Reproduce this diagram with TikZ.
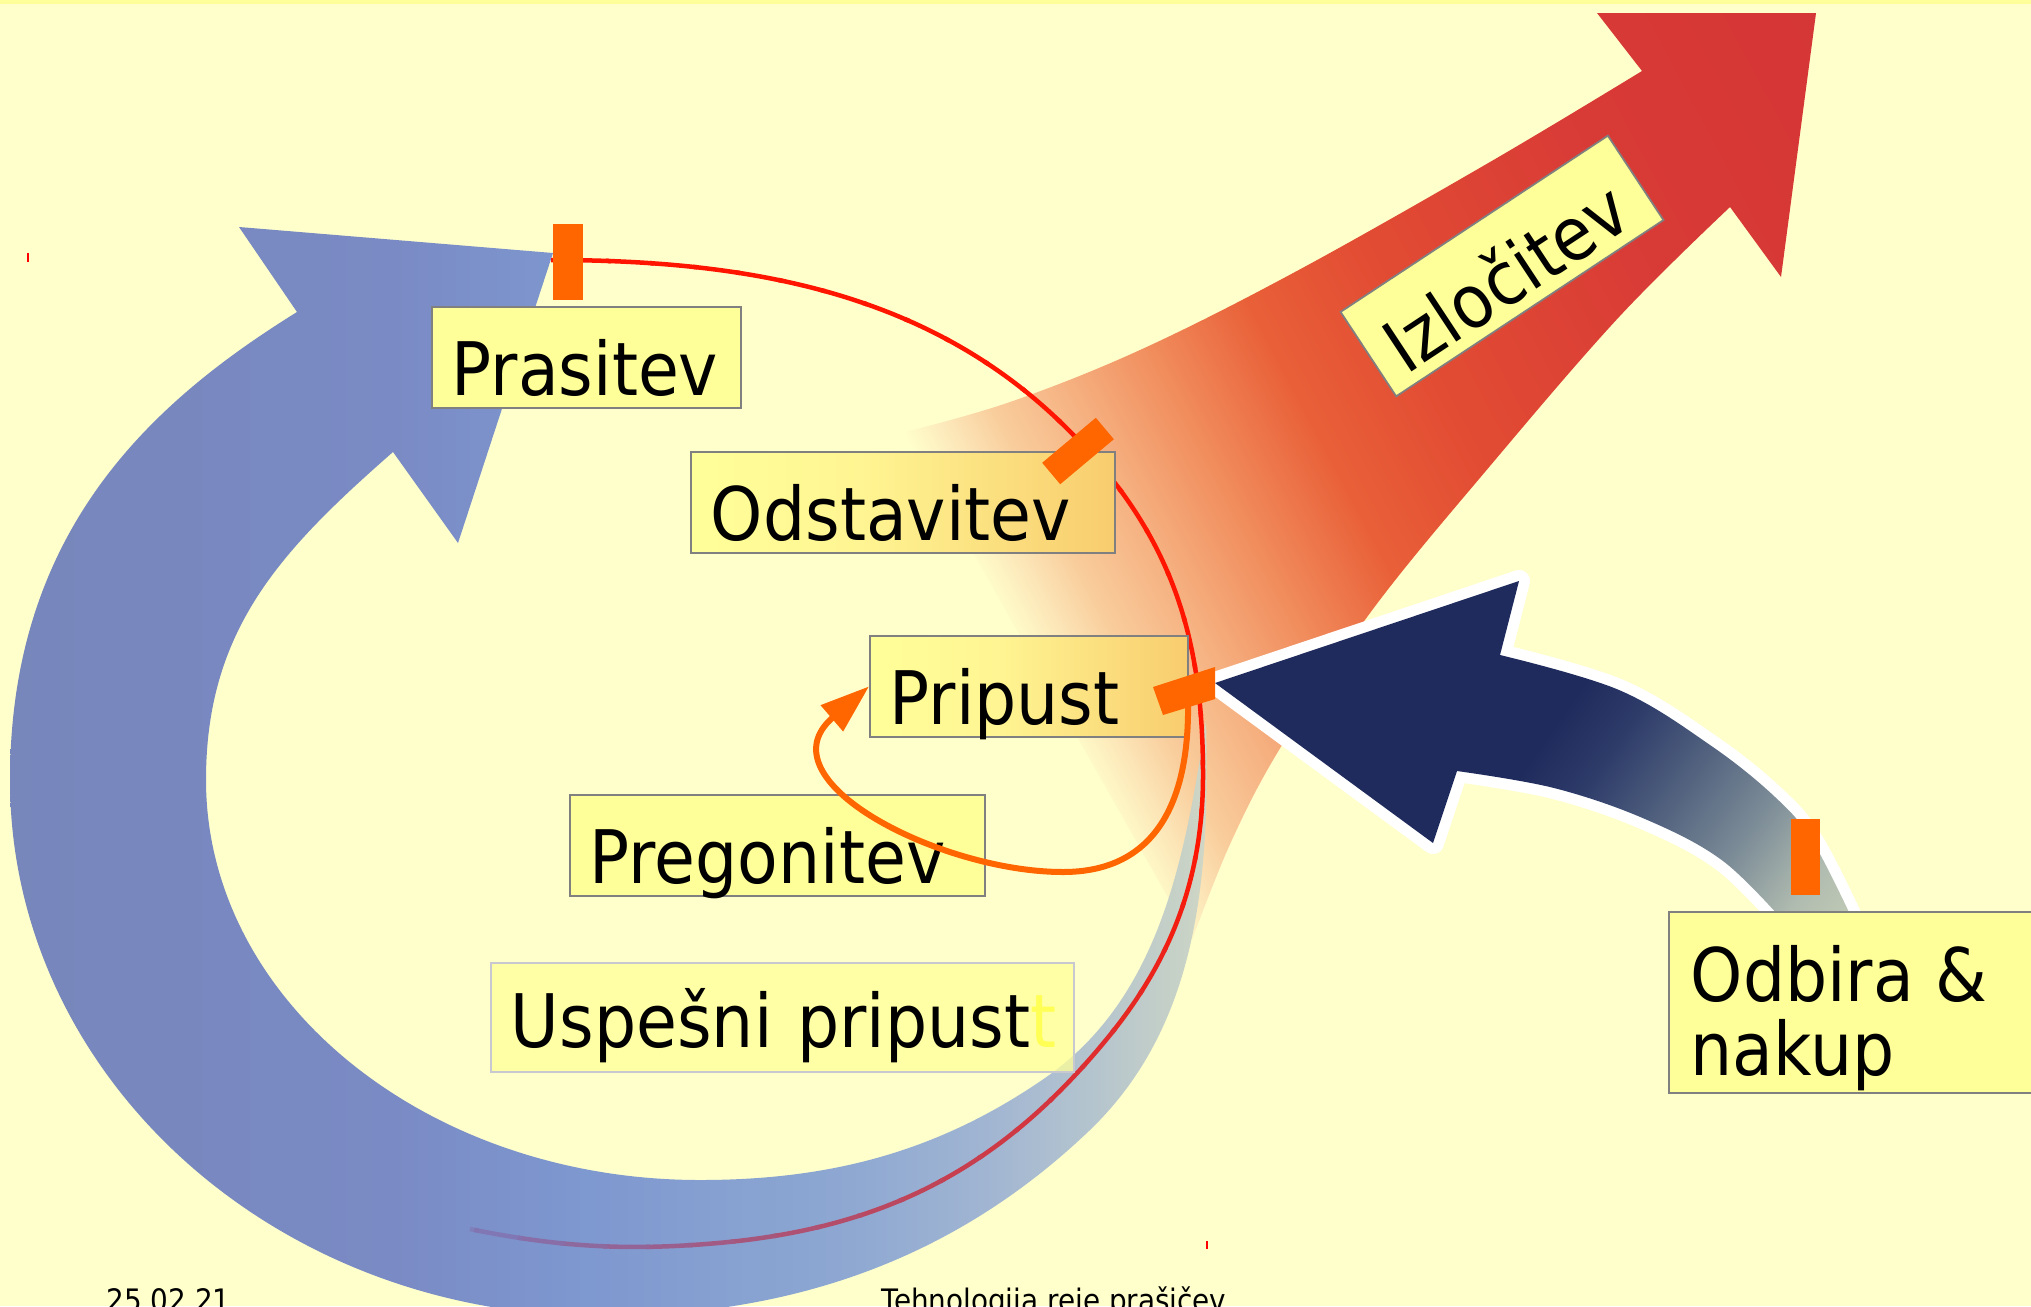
\documentclass[tikz,border=0pt]{standalone}
\usepackage{fontspec}
\newfontfamily\labfont[FakeStretch=0.9]{DejaVu Sans}
\usetikzlibrary{arrows.meta}
\definecolor{bgY}{HTML}{FFFFCC}
\definecolor{stripY}{HTML}{FFFF99}
\definecolor{boxY}{HTML}{FFFF99}
\definecolor{boxY2}{HTML}{FFF592}
\definecolor{boxO}{HTML}{F8CC6E}
\definecolor{boxLine}{HTML}{808080}
\definecolor{uspLine}{HTML}{C8C8D0}
\definecolor{ghostY}{HTML}{FFFF55}
\definecolor{mk}{HTML}{FF6600}
\definecolor{redline}{HTML}{FF1500}
\definecolor{rlEnd}{HTML}{8272B0}
% fan colours
\definecolor{fan1}{HTML}{FCE6B8}
\definecolor{fan2}{HTML}{F9CD9C}
\definecolor{fan3}{HTML}{F6B282}
\definecolor{fan4}{HTML}{F18E5E}
\definecolor{fan5}{HTML}{E96038}
\definecolor{fan6}{HTML}{E24C33}
\definecolor{fan7}{HTML}{D83A36}
\definecolor{fan8}{HTML}{D23236}
% blue band colours
\definecolor{b1}{HTML}{7786BB}
\definecolor{b2}{HTML}{7A8AC4}
\definecolor{b3}{HTML}{7E98D0}
\definecolor{b4}{HTML}{8EA8D2}
\definecolor{b5}{HTML}{A2B6D2}
\definecolor{b6}{HTML}{B4C4CE}
\definecolor{b7}{HTML}{C8D2C6}
\definecolor{b8}{HTML}{D4D8C4}
% navy colours
\definecolor{n1}{HTML}{1F2B5C}
\definecolor{n2}{HTML}{2E3C6A}
\definecolor{n3}{HTML}{4A5A7A}
\definecolor{n4}{HTML}{7A8A96}
\definecolor{n5}{HTML}{B0BCB0}
\definecolor{n6}{HTML}{C4CCB6}
\pgfdeclarehorizontalshading{fanshade}{100bp}{color(0bp)=(bgY); color(29bp)=(bgY); color(31.5bp)=(fan1); color(34bp)=(fan2); color(38bp)=(fan3); color(43bp)=(fan4); color(49bp)=(fan5); color(56bp)=(fan6); color(70bp)=(fan7); color(100bp)=(fan8)}
\pgfdeclarehorizontalshading{blueshade}{100bp}{color(0bp)=(b1); color(25bp)=(b1); color(41bp)=(b2); color(49bp)=(b3); color(60bp)=(b4); color(66bp)=(b5); color(70bp)=(b6); color(74bp)=(b7); color(75bp)=(b8); color(100bp)=(b8)}
\pgfdeclarehorizontalshading{navyshade}{100bp}{color(0bp)=(n1); color(50bp)=(n1); color(56bp)=(n2); color(62bp)=(n3); color(71bp)=(n4); color(79bp)=(n5); color(85bp)=(n6); color(100bp)=(n6)}
\pgfdeclarehorizontalshading{boxshade}{100bp}{color(0bp)=(boxY); color(25bp)=(boxY); color(45bp)=(boxY2); color(75bp)=(boxO); color(100bp)=(boxO)}
\tikzset{
  lbl/.style={draw=boxLine, line width=0.5pt, fill=boxY, inner xsep=0.2cm, inner ysep=0pt,
    text height=0.89cm, text depth=0.12cm, align=left, anchor=north west,
    font=\labfont\fontsize{21pt}{21pt}\selectfont, text=black},
  lblsh/.style={lbl, shade, shading=boxshade},
  mkbox/.style={fill=mk, inner sep=0pt, draw=none},
  foot/.style={anchor=base west, inner sep=0pt, font=\labfont\fontsize{8.8pt}{10pt}\selectfont, text=black},
}
\begin{document}
\begin{tikzpicture}[x=0.01cm, y=-0.01cm]
\useasboundingbox (0,0) rectangle (2031,1306);
\clip (0,0) rectangle (2031,1306);
\fill[bgY] (0,0) rectangle (2031,1306);
\fill[stripY] (0,0) rectangle (2031,4);

% big fading red arrow (Izlocitev)
\shade[shading=fanshade, shading angle=28]
  (905,432) -- plot[smooth, tension=0.6] coordinates {(905,432) (1010,402) (1140,350) (1295,272) (1490,162) (1642,71)}
  -- (1597,13) -- (1816,13) -- (1781,277) -- (1730,207)
  -- plot[smooth, tension=0.6] coordinates {(1730,207) (1619,317) (1490,466) (1373,609) (1282,745) (1231,842) (1192,940)}
  -- cycle;

% big blue circular arrow
\shade[shading=blueshade]
  (297,312) -- (239,227) -- (553,253) -- (458,543) -- (393,452)
  .. controls (280,551) and (206,630) .. (206,780)
  .. controls (206,1001) and (427,1180) .. (700,1180)
  .. controls (830,1180) and (938,1152) .. (1045,1078)
  .. controls (1160,998) and (1185,858) .. (1206,720)
  .. controls (1210,873) and (1200,1024) .. (1090,1130)
  .. controls (953,1261) and (790,1316) .. (600,1316)
  .. controls (274,1316) and (10,1076) .. (10,780)
  .. controls (10,530) and (152,402) .. (297,312)
  -- cycle;

% red cycle line, colour changing along its lower part
\def\redcurve{(551,260) .. controls (781,260) and (979,304) .. (1118,487)
  .. controls (1184,575) and (1203,665) .. (1203,775)
  .. controls (1203,875) and (1173,957) .. (1110,1035)
  .. controls (1003,1167) and (887,1228) .. (718,1243)
  .. controls (628,1251) and (558,1247) .. (470,1229)}
\foreach \a in {-130,-125,...,125}{
  \pgfmathtruncatemacro\p{max(0,min(100,\a-5))}
  \pgfmathsetmacro\op{min(1,max(0,(120-\a)/18))}
  \begin{scope}
    \clip (650,760) -- +(\a:3000) -- +(\a+5.5:3000) -- cycle;
    \draw[line width=0.045cm, draw=rlEnd!\p!redline, draw opacity=\op] \redcurve;
  \end{scope}
}

% labels
\node[lbl, text width=2.69cm] (pras) at (431,306) {Prasitev};
\node[lblsh, text width=3.84cm] (odst) at (690,451) {Odstavitev};
\node[lblsh, text width=2.78cm] (prip) at (869,635) {Pripust};
\node[lbl, text width=3.75cm] (preg) at (569,794) {Pregonitev};
\node[lbl, text width=5.43cm, text height=0.85cm, text depth=0.24cm, draw=uspLine, fill opacity=0.75, text opacity=1] (usp) at (490,962) {\mbox{Uspešni pripust{\color{ghostY}t}}};
\node[lbl, text width=2.8cm, anchor=center, rotate=33.4] (izl) at (1502,266) {Izločitev};

% navy arrow (Odbira & nakup)
\def\navypath{(1215,683) -- (1519,581) -- (1500,655)
  -- plot[smooth, tension=0.6] coordinates {(1500,655) (1619,690) (1710,745) (1775,797) (1813,842) (1855,925)}
  -- (1787,925)
  -- plot[smooth, tension=0.6] coordinates {(1787,925) (1723,861) (1645,819) (1554,788) (1457,771)}
  -- (1433,843) -- cycle}
\draw[white, line width=0.22cm, line join=round] \navypath;
\shade[shading=navyshade, shading angle=-35] \navypath;

\node[draw=boxLine, line width=0.5pt, fill=boxY, minimum width=4.2cm, minimum height=1.81cm, anchor=north west, inner sep=0pt] (odb) at (1668,911) {};
\node[anchor=north west, inner sep=0pt, align=left, font=\labfont\fontsize{21pt}{21pt}\selectfont] (odbt) at (1690,945) {Odbira \&\\nakup};

% orange loop arrow Pripust -> Pripust
\coordinate (pmark) at (1188,700);
\draw[mk, line width=0.06cm, -{Triangle[length=0.49cm, width=0.33cm]}]
  (pmark) .. controls (1190,810) and (1150,872) .. (1063,872)
  .. controls (940,872) and (760,780) .. (prip.west);

% orange markers
\node[mkbox, minimum width=0.30cm, minimum height=0.76cm] (m1) at (568,262) {};
\node[mkbox, minimum width=0.70cm, minimum height=0.28cm, rotate=40] (m2) at (1078,451) {};
\fill[mk] (1153,687) -- (1215,667) -- (1215,699) -- (1163,715) -- cycle;
\node[mkbox, minimum width=0.29cm, minimum height=0.75cm] (m4) at (1805,857) {};

% tiny red ticks
\draw[red, line width=0.02cm] (28,253) -- (28,262);
\draw[red, line width=0.02cm] (1207,1241) -- (1207,1249);

% footer
\node[foot] (date) at (106,1311) {25.02.21};
\node[foot] (title) at (881,1311) {Tehnologija reje prašičev};
\end{tikzpicture}
\end{document}
